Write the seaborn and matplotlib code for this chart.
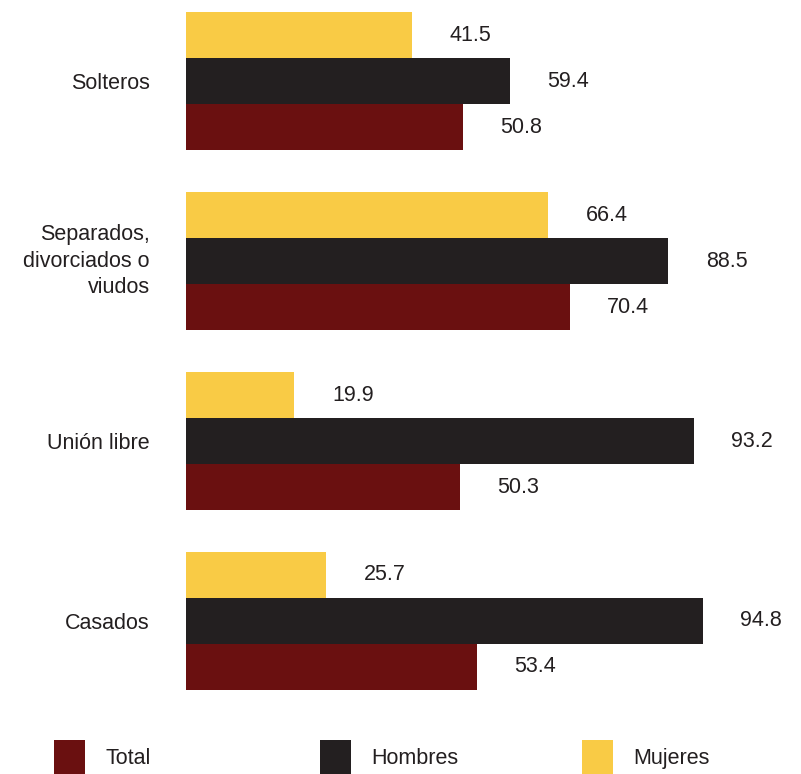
import matplotlib
matplotlib.use("Agg")
import matplotlib.pyplot as plt
import seaborn as sns
import pandas as pd

categorias = ["Solteros", "Separados,\ndivorciados o\nviudos", "Unión libre", "Casados"]
mujeres = [41.5, 66.4, 19.9, 25.7]
hombres = [59.4, 88.5, 93.2, 94.8]
total = [50.8, 70.4, 50.3, 53.4]
grupos = ["Mujeres", "Hombres", "Total"]
colores = {"Mujeres": "#F9CB45", "Hombres": "#231F20", "Total": "#6A1010"}

rows = []
for g, vals in zip(grupos, [mujeres, hombres, total]):
    for c, v in zip(categorias, vals):
        rows.append({"cat": c, "val": v, "grupo": g})
df = pd.DataFrame(rows)

sns.set_theme(style="white")
plt.rcParams["font.family"] = ["Liberation Sans", "DejaVu Sans"]

FS = 15.5
W, H = 801, 774
fig = plt.figure(figsize=(W / 100, H / 100), dpi=100)
ax = fig.add_axes([186 / W, 1 - 711 / H, 545 / W, 711 / H])

sns.barplot(data=df, y="cat", x="val", hue="grupo", hue_order=grupos,
            order=categorias, palette=colores, orient="h", width=138 / 180,
            saturation=1, linewidth=0, ax=ax)

for cont in ax.containers:
    ax.bar_label(cont, fmt="%.1f", padding=27, fontsize=FS, color="#231F20")

handles, labels = ax.get_legend_handles_labels()
if ax.get_legend() is not None:
    ax.get_legend().remove()

ax.set_xlim(0, 100)
ax.set_ylim(3.5, -0.45)
ax.set_xlabel("")
ax.set_ylabel("")
ax.set_xticks([])
for s in ax.spines.values():
    s.set_visible(False)
ax.tick_params(axis="y", length=0, pad=26, labelsize=FS, labelcolor="#231F20")
for t in ax.get_yticklabels():
    t.set_linespacing(1.36)
    if "\n" in t.get_text():
        t.set_verticalalignment("center")

hmap = dict(zip(labels, handles))
pos = {"Total": 54, "Hombres": 320, "Mujeres": 582}
for name in ["Total", "Hombres", "Mujeres"]:
    leg = fig.legend(handles=[hmap[name]], labels=[name], loc="center left",
                     bbox_to_anchor=(pos[name] / W, 1 - 757 / H),
                     frameon=False, fontsize=FS, handlelength=1.45,
                     handleheight=2.0, handletextpad=0.95, borderpad=0,
                     borderaxespad=0)
    for t in leg.get_texts():
        t.set_color("#231F20")

fig.savefig("out.png", dpi=100)
